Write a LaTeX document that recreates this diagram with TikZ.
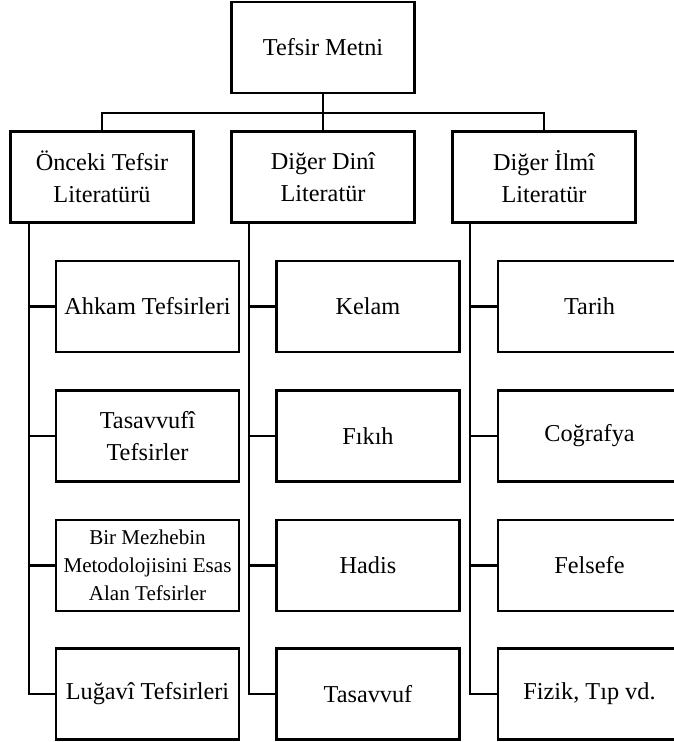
\documentclass[tikz,border=0pt]{standalone}
\usepackage{fontspec}
\setmainfont{Liberation Serif}
\begin{document}
\begin{tikzpicture}[x=0.75pt,y=-0.75pt,
  box/.style={draw,line width=1.9pt,minimum width=137pt,minimum height=68.5pt,align=center,inner sep=1pt,
    font=\fontsize{18.2}{24}\selectfont},
  smallbox/.style={box,font=\fontsize{15.8}{21}\selectfont},
  conn/.style={line width=2.1pt}]
\useasboundingbox (0,0) rectangle (674,742);
\clip (0,0) rectangle (674,742);
% root
\node[box] (top) at (323,47.5) {Tefsir Metni};
% level 2
\node[box] (L1) at (102,177) {Önceki Tefsir\\Literatürü};
\node[box] (L2) at (323,177) {Diğer Dinî\\Literatür};
\node[box] (L3) at (544,177) {Diğer İlmî\\Literatür};
% leaves column 1
\node[box] (a1) at (147.5,306.5) {Ahkam Tefsirleri};
\node[box] (a2) at (147.5,436) {Tasavvufî\\Tefsirler};
\node[smallbox] (a3) at (147.5,565.5) {Bir Mezhebin\\Metodolojisini Esas\\Alan Tefsirler};
\node[box] (a4) at (147.5,694) {Luğavî Tefsirleri};
% leaves column 2
\node[box] (b1) at (368,306.5) {Kelam};
\node[box] (b2) at (368,436) {Fıkıh};
\node[box] (b3) at (368,565.5) {Hadis};
\node[box] (b4) at (368,694) {Tasavvuf};
% leaves column 3
\node[box] (c1) at (589.5,306.5) {Tarih};
\node[box] (c2) at (589.5,436) {Coğrafya};
\node[box] (c3) at (589.5,565.5) {Felsefe};
\node[box] (c4) at (589.5,694) {Fizik, Tıp vd.};
% spine start points
\coordinate (s1) at (29,223);
\coordinate (s2) at (249,223);
\coordinate (s3) at (470,223);
\coordinate (bus) at (323,113);
% top connectors
\draw[conn] (top.south) -- (L2.north);
\draw[conn] (L1.north) -- (L1.north |- bus) -| (L3.north);
% spines
\draw[conn] (s1) |- (a4.west);
\draw[conn] (a1.west) -- (a1.west -| s1);
\draw[conn] (a2.west) -- (a2.west -| s1);
\draw[conn] (a3.west) -- (a3.west -| s1);
\draw[conn] (s2) |- (b4.west);
\draw[conn] (b1.west) -- (b1.west -| s2);
\draw[conn] (b2.west) -- (b2.west -| s2);
\draw[conn] (b3.west) -- (b3.west -| s2);
\draw[conn] (s3) |- (c4.west);
\draw[conn] (c1.west) -- (c1.west -| s3);
\draw[conn] (c2.west) -- (c2.west -| s3);
\draw[conn] (c3.west) -- (c3.west -| s3);
\end{tikzpicture}
\end{document}
